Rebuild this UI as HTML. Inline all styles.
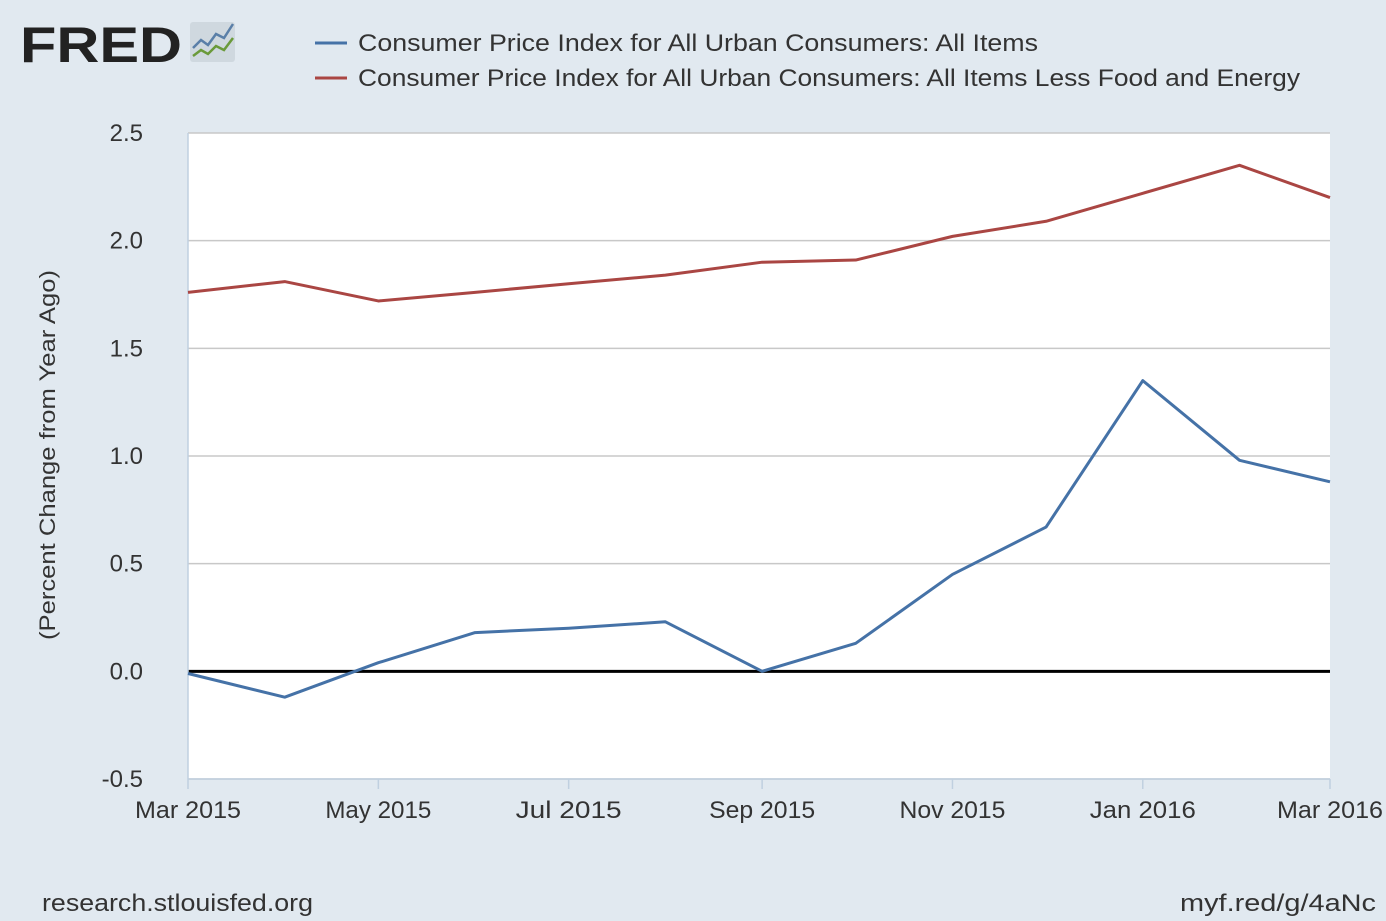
<!DOCTYPE html>
<html><head><meta charset="utf-8">
<style>
body{margin:0;background:#e1e9f0;font-family:"Liberation Sans",sans-serif;}
svg{display:block}
</style></head>
<body>
<svg width="1386" height="921" viewBox="0 0 1386 921">
<rect width="1386" height="921" fill="#e1e9f0"/>
<g>
<text x="20" y="62" font-size="50" font-weight="bold" fill="#222" textLength="162" lengthAdjust="spacingAndGlyphs">FRED</text>
<rect x="190" y="22" width="45" height="40" rx="3" fill="#cfd8df"/>
<polyline points="193,48 201,40 208,45 216,34 224,38 233,24" fill="none" stroke="#5a7fa8" stroke-width="2.5"/>
<polyline points="193,56 201,50 208,54 216,46 224,50 233,38" fill="none" stroke="#6a9a3a" stroke-width="2.5"/>
</g>
<g>
<line x1="315" y1="43" x2="347" y2="43" stroke="#4572a7" stroke-width="3"/>
<text x="358" y="51" font-size="24" fill="#333" textLength="680" lengthAdjust="spacingAndGlyphs">Consumer Price Index for All Urban Consumers: All Items</text>
<line x1="315" y1="78" x2="347" y2="78" stroke="#aa4643" stroke-width="3"/>
<text x="358" y="86" font-size="24" fill="#333" textLength="942" lengthAdjust="spacingAndGlyphs">Consumer Price Index for All Urban Consumers: All Items Less Food and Energy</text>
</g>
<rect x="188" y="133" width="1142" height="646" fill="#fff"/>
<g id="grid"></g>
<g id="axes"></g>
<g id="series"></g>
<text transform="translate(55,455) rotate(-90)" text-anchor="middle" font-size="22" fill="#333" textLength="370" lengthAdjust="spacingAndGlyphs">(Percent Change from Year Ago)</text>
<text x="42" y="911" font-size="24" fill="#333" textLength="271" lengthAdjust="spacingAndGlyphs">research.stlouisfed.org</text>
<text x="1180" y="911" font-size="24" fill="#333" textLength="196" lengthAdjust="spacingAndGlyphs">myf.red/g/4aNc</text>
</svg>
<script>
const dates=["2015-03-01","2015-04-01","2015-05-01","2015-06-01","2015-07-01","2015-08-01","2015-09-01","2015-10-01","2015-11-01","2015-12-01","2016-01-01","2016-02-01","2016-03-01"];
const allItems=[-0.01,-0.12,0.04,0.18,0.20,0.23,0.00,0.13,0.45,0.67,1.35,0.98,0.88];
const coreItems=[1.76,1.81,1.72,1.76,1.80,1.84,1.90,1.91,2.02,2.09,2.22,2.35,2.20];
const yTicks=[-0.5,0,0.5,1,1.5,2,2.5];
const yTickLabels=["-0.5","0.0","0.5","1.0","1.5","2.0","2.5"];
const xTickDates=["2015-03-01","2015-05-01","2015-07-01","2015-09-01","2015-11-01","2016-01-01","2016-03-01"];
const xTickLabels=["Mar 2015","May 2015","Jul 2015","Sep 2015","Nov 2015","Jan 2016","Mar 2016"];
const NS="http://www.w3.org/2000/svg";
const x0=188,x1=1330,yTop=133,yBot=779;
const t0=Date.parse(dates[0]),t1=Date.parse(dates[dates.length-1]);
const X=d=>x0+(Date.parse(d)-t0)/(t1-t0)*(x1-x0);
const Y=v=>yBot-(v+0.5)/3*(yBot-yTop);
function mk(tag,attrs,parent){const e=document.createElementNS(NS,tag);for(const k in attrs)e.setAttribute(k,attrs[k]);parent.appendChild(e);return e;}
const grid=document.getElementById('grid'),axes=document.getElementById('axes'),series=document.getElementById('series');
yTicks.forEach((v,i)=>{
  const l=mk('line',{x1:x0,x2:x1,y1:Y(v),y2:Y(v),stroke:v===0?'#000':'#c8c8c8','stroke-width':v===0?3:1.5},grid);
  
  
  const t=mk('text',{x:143,y:Y(v)+8,'text-anchor':'end','font-size':24,fill:'#333'},axes);
  t.textContent=yTickLabels[i];
  
  
});
const ax=mk('line',{x1:x0,x2:x1,y1:yBot,y2:yBot,stroke:'#c0d0e0','stroke-width':1.5},axes);


const ya=mk('line',{x1:x0,x2:x0,y1:yTop,y2:yBot,stroke:'#c0d0e0','stroke-width':1.5},axes);


xTickDates.forEach((d,i)=>{
  const tk=mk('line',{x1:X(d),x2:X(d),y1:yBot,y2:yBot+10,stroke:'#c0d0e0','stroke-width':1.5},axes);
  
  
  const t=mk('text',{x:X(d),y:818,'text-anchor':'middle','font-size':24,fill:'#333',textLength:106,lengthAdjust:'spacingAndGlyphs'},axes);
  t.textContent=xTickLabels[i];
  
  
});
function line(vals,color,name){
  const p=mk('polyline',{points:vals.map((v,i)=>X(dates[i])+','+Y(v)).join(' '),fill:'none',stroke:color,'stroke-width':3,'stroke-linejoin':'round'},series);
  
  
}
line(coreItems,'#aa4643','series-core-cpi');
line(allItems,'#4572a7','series-all-items-cpi');
</script>
</body></html>
